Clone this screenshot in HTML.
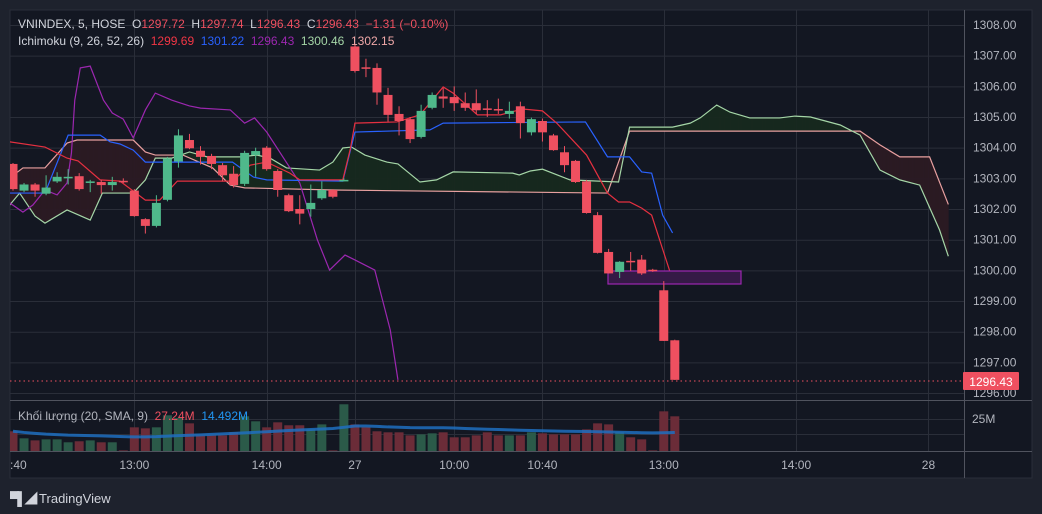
<!DOCTYPE html>
<html><head><meta charset="utf-8"><style>
html,body{margin:0;padding:0;background:#1e222d;width:1042px;height:514px;overflow:hidden;font-family:"Liberation Sans","Noto Sans CJK SC",sans-serif}
svg{position:absolute;left:0;top:0}
</style></head><body>
<svg id="c" width="1042" height="514"></svg>
<script>
const opens=[1303.47,1302.6,1302.8,1302.5,1302.9,1303.0,1303.07,1302.85,1302.88,1302.78,1302.92,1302.6,1301.67,1301.45,1302.3,1303.55,1304.25,1303.9,1303.73,1303.43,1303.15,1302.82,1303.76,1304.0,1303.24,1302.45,1302.0,1302.0,1302.35,1302.62,1302.9,1307.3,1306.62,1306.6,1305.72,1305.1,1304.93,1304.35,1305.3,1305.67,1305.65,1305.45,1305.45,1305.28,1305.26,1305.1,1305.35,1304.5,1304.87,1304.4,1303.85,1303.57,1302.9,1301.8,1300.6,1299.95,1300.31,1300.35,1300.02,1299.35,1297.72];
const closes=[1302.65,1302.8,1302.6,1302.7,1303.05,1303.05,1302.65,1302.9,1302.78,1302.88,1302.9,1301.77,1301.45,1302.2,1303.65,1304.4,1303.98,1303.7,1303.47,1303.1,1302.78,1303.83,1303.89,1303.3,1302.62,1301.93,1301.85,1302.2,1302.62,1302.4,1302.95,1306.5,1306.6,1305.8,1305.07,1304.87,1304.28,1305.2,1305.72,1305.6,1305.45,1305.3,1305.22,1305.26,1305.24,1305.2,1304.8,1304.93,1304.5,1303.92,1303.43,1302.88,1301.87,1300.57,1299.9,1300.28,1300.29,1299.9,1300.0,1297.7,1296.43];
const highs=[1303.5,1302.85,1302.85,1303.1,1303.2,1303.3,1303.17,1302.95,1302.95,1303.05,1303.0,1302.65,1301.7,1302.45,1303.7,1304.6,1304.45,1304.05,1303.8,1303.5,1303.4,1303.9,1304.0,1304.05,1303.3,1302.5,1302.45,1302.8,1302.9,1302.65,1303.0,1307.35,1306.9,1306.75,1305.95,1305.35,1305.0,1305.4,1305.8,1305.95,1306.0,1305.8,1305.9,1305.55,1305.6,1305.5,1305.5,1304.98,1304.95,1304.45,1304.05,1303.6,1302.95,1301.9,1300.7,1300.3,1300.6,1300.5,1300.05,1299.65,1297.74];
const lows=[1302.6,1302.55,1302.4,1302.45,1302.85,1302.8,1302.6,1302.55,1302.5,1302.6,1302.85,1301.75,1301.2,1301.4,1302.25,1303.35,1303.95,1303.45,1303.3,1302.9,1302.7,1302.75,1303.05,1303.25,1302.4,1301.9,1301.5,1301.75,1302.3,1302.35,1302.9,1306.45,1306.3,1305.4,1304.85,1304.4,1304.15,1304.3,1305.25,1305.3,1305.2,1305.2,1305.1,1305.0,1305.1,1304.95,1304.3,1304.4,1304.2,1303.9,1303.2,1302.85,1301.85,1300.55,1299.9,1299.75,1299.98,1299.85,1299.95,1297.7,1296.43];
const volumes=[15.4,9.9,8.3,9.1,9.1,6.8,7.6,8.3,6.8,6.8,0.5,18.5,17.7,18.5,27.9,25.8,21.6,12.2,12.2,12.2,14.6,27.1,23.2,18.5,22.4,20.1,20.1,16.9,20.8,0.5,36.5,20.8,18.5,15.4,14.6,14.6,12.2,13,13.8,14.6,10.7,10.7,12.2,14.6,12.2,12.2,12.2,14.6,13.8,13,13,13,16.9,21.6,20.8,14.6,10.7,9.1,0.5,31,27.1];
const volSma=[15.4,14.5,13.8,13.2,12.8,12.4,12.2,12,11.8,11.5,11.2,11,11,11.2,11.6,12,12.3,12.6,13,13.4,13.8,14.2,14.6,15,15.5,16,16.4,16.8,17.2,17.6,18.5,19.5,19.5,19.2,18.8,18.6,18.3,18.2,18.2,18.2,18,17.6,17.3,17,16.8,16.5,16.2,16,15.8,15.6,15.4,15.3,15.2,15,14.8,14.6,14.5,14.3,14.2,14.3,14.5];
const convIdx=[-0.3,2.9,4.9,5.9,7.9,9.7,12,13.3,14.9,19.9,21.5,23,25.1,26,29.9,30.6,31,34.8,36.9,39,39.9,42.1,44.2,46.2,48,49.3,52,53.9,54.9,55.9,57,57.9,59.8];
const convVal=[1304.19,1304.02,1303.66,1303.57,1302.95,1302.91,1302.29,1302.29,1302.91,1302.91,1303.43,1303.53,1303.17,1302.95,1302.95,1303.99,1304.8,1304.84,1305.07,1305.98,1305.78,1305.07,1305.07,1305.26,1305.2,1304.8,1303.76,1302.52,1302.23,1302.23,1302.03,1301.8,1299.69];
const baseIdx=[-0.3,2.9,5,7.9,8.8,9.7,10.9,12,19.9,21.8,23,29.9,31,37.8,39,51.9,53.9,55.9,57,57.9,58.9,59.8];
const baseVal=[1302.52,1302.52,1304.41,1304.41,1304.19,1304.12,1303.92,1303.53,1303.53,1303.04,1302.95,1302.91,1304.51,1304.58,1304.8,1304.84,1303.7,1303.7,1303.21,1303.17,1301.8,1301.22];
const lagIdx=[-0.3,0.9,1.8,2.9,4,4.9,5.3,5.6,6.1,7,8.2,9,10,10.9,12,12.9,14.4,16,17,19.7,21,21.9,23,26,27.6,28.7,30.1,31,32.8,34.2,34.9];
const lagVal=[1302.2,1301.9,1302.13,1302.62,1302.46,1302.85,1303.83,1305.55,1306.6,1306.66,1305.55,1305.13,1304.93,1304.32,1305.23,1305.78,1305.55,1305.36,1305.29,1305.23,1304.8,1304.97,1304.51,1302.85,1300.99,1300.01,1300.5,1300.34,1300.01,1298.06,1296.43];
const spanAIdx=[-0.3,0.6,2,2.9,4.9,7,8.1,10.9,12,12.9,14.4,16,17.6,20.6,22.1,23.3,24.8,27.8,29,29.9,30.7,31.9,33.9,34.9,36.9,38.4,39.9,45.3,45.9,46.9,48,50.5,54.9,55.9,59.8,61.4,62.3,63.8,65,66.8,69.5,70.9,72.3,75,76.8,78.6,80.4,82.2,84,84.8];
const spanAVal=[1302.13,1302.52,1301.77,1301.54,1301.97,1301.64,1302.52,1302.52,1302.95,1303.66,1303.66,1303.86,1303.7,1303.7,1303.76,1303.66,1303.34,1303.27,1303.53,1303.99,1304.02,1303.76,1303.53,1303.47,1302.88,1302.95,1303.21,1303.17,1303.11,1303.24,1303.3,1302.95,1302.88,1304.67,1304.67,1304.8,1304.97,1305.39,1305.16,1304.97,1304.97,1305.03,1305,1304.74,1304.41,1303.27,1302.95,1302.78,1301.32,1300.46];
const spanBIdx=[-0.3,0.9,2.9,4.9,5.8,10.9,12,12.9,15.4,18.1,19.7,21,29,53.9,55.9,76.8,78.6,80.4,83.1,84.8];
const spanBVal=[1303.01,1303.34,1303.34,1304.15,1304.25,1304.25,1303.86,1303.76,1303.76,1303.34,1302.78,1302.69,1302.62,1302.52,1304.54,1304.54,1304.09,1303.7,1303.7,1302.15];
const priceTicks=[1308,1307,1306,1305,1304,1303,1302,1301,1300,1299,1298,1297,1296];
const timeTicks=[":40","13:00","14:00","27","10:00","10:40","13:00","14:00","28"];
const timeTickIdx=[0.4,11,23,31,40,48,59,71,83];

const NS="http://www.w3.org/2000/svg";
const svg=document.getElementById('c');
const X=i=>13+i*11.03;
const Y=p=>25+(1308-p)*30.67;
const VY=v=>451-v*1.28;
function el(tag,attrs,parent){const e=document.createElementNS(NS,tag);for(const k in attrs)e.setAttribute(k,attrs[k]);(parent||svg).appendChild(e);return e;}
function txt(s,x,y,fill,size,anchor,parent){const t=el('text',{x:x,y:y,fill:fill,'font-size':size||12,'text-anchor':anchor||'start','font-family':'Liberation Sans, sans-serif'},parent);t.textContent=s;return t;}

// panel
const panel=el('rect',{x:10,y:10,width:1022,height:468,fill:'#131722',stroke:'#2a2e39'});


const defs=el('defs',{});
const cp=el('clipPath',{id:'pc'},defs);el('rect',{x:10,y:10,width:954,height:390},cp);
const cv=el('clipPath',{id:'vc'},defs);el('rect',{x:10,y:401,width:954,height:50},cv);

// grid
const grid=el('g',{stroke:'#2a2e39','stroke-width':1});


priceTicks.forEach(p=>el('line',{x1:10,x2:964,y1:Y(p)+0.5,y2:Y(p)+0.5},grid));
[434,419].forEach(y=>el('line',{x1:10,x2:964,y1:y+0.5,y2:y+0.5},grid));
timeTickIdx.slice(1).forEach(i=>el('line',{x1:Math.round(X(i))+0.5,x2:Math.round(X(i))+0.5,y1:10,y2:451},grid));

// separators
el('line',{x1:964.5,x2:964.5,y1:10,y2:478,stroke:'#50535e'});
el('line',{x1:10,x2:1032,y1:400.5,y2:400.5,stroke:'#50535e'});
el('line',{x1:10,x2:1032,y1:451.5,y2:451.5,stroke:'#50535e'});

// price labels
const pax=el('g',{});


priceTicks.forEach(p=>txt(p.toFixed(2),973,Y(p)+4,'#b2b5be',12,'start',pax));
txt('25M',972,423,'#b2b5be',12,'start',pax);

// time labels
const tax=el('g',{});


timeTicks.forEach((s,k)=>txt(s,k===0?10:X(timeTickIdx[k]),469,'#b2b5be',12,k===0?'start':'middle',tax));

// ichimoku
const ich=el('g',{'clip-path':'url(#pc)'});


function interp(idx,val,t){if(t<idx[0]||t>idx[idx.length-1])return null;for(let k=1;k<idx.length;k++){if(t<=idx[k]){const f=(t-idx[k-1])/(idx[k]-idx[k-1]);return val[k-1]+f*(val[k]-val[k-1]);}}return val[val.length-1];}
// cloud
const cloud=el('g',{},ich);


for(let t=-0.3;t<84.8;t+=0.1){
  const t2=Math.min(t+0.1,84.8);
  const a1=interp(spanAIdx,spanAVal,t),a2=interp(spanAIdx,spanAVal,t2),b1=interp(spanBIdx,spanBVal,t),b2=interp(spanBIdx,spanBVal,t2);
  if(a1==null||a2==null||b1==null||b2==null)continue;
  const up=(a1+a2)>(b1+b2);
  el('polygon',{points:`${X(t)},${Y(a1)} ${X(t2)+0.3},${Y(a2)} ${X(t2)+0.3},${Y(b2)} ${X(t)},${Y(b1)}`,fill:up?'#17291f':'#2b1a24',opacity:0.95},cloud);
}
function line(idx,val,color,name,w){const pts=idx.map((t,k)=>X(t)+','+Y(val[k])).join(' ');const l=el('polyline',{points:pts,fill:'none',stroke:color,'stroke-width':w||1.2},ich);}
line(spanBIdx,spanBVal,'#e8a0a0','senkou-span-b');
line(spanAIdx,spanAVal,'#a5d6a7','senkou-span-a');
line(lagIdx,lagVal,'#9c27b0','chikou-span');
line(baseIdx,baseVal,'#2962ff','kijun-sen');
line(convIdx,convVal,'#e53040','tenkan-sen');

// purple box
const box=el('rect',{x:608,y:271,width:133,height:13,fill:'#351a46',stroke:'#9c27b0','stroke-width':1.2});



// candles
const cg=el('g',{'clip-path':'url(#pc)'});


opens.forEach((o,i)=>{
  const c=closes[i],up=c>=o,col=up?'#4fb98b':'#ef5060';
  const g=el('g',{},cg);
  
  
  const x=X(i);
  el('line',{x1:x,x2:x,y1:Y(highs[i]),y2:Y(lows[i]),stroke:col,'stroke-width':1},g);
  const top=Y(Math.max(o,c)),h=Math.max(1.5,Math.abs(Y(o)-Y(c)));
  el('rect',{x:x-4.5,y:top,width:9,height:h,fill:col},g);
});

// last price line
const lp=el('line',{x1:10,x2:964,y1:381,y2:381,stroke:'#ef5060','stroke-dasharray':'1.5 3','stroke-width':1});


const lb=el('rect',{x:963,y:372,width:56,height:18,fill:'#ef5060',rx:1});


txt('1296.43',991,386,'#ffffff',12,'middle');

// volume
const vg=el('g',{'clip-path':'url(#vc)'});


volumes.forEach((v,i)=>{
  const up=closes[i]>=opens[i];
  const r=el('rect',{x:X(i)-4.5,y:VY(v),width:9,height:451-VY(v),fill:up?'#2b5a49':'#6b2c38'},vg);
  
  
});
const sma=el('polyline',{points:volSma.map((v,i)=>X(i)+','+VY(v)).join(' '),fill:'none',stroke:'#1e6fc0','stroke-width':3,opacity:0.85,'clip-path':'url(#vc)'});


</script>
<div style="position:absolute;left:18px;top:17px;font-size:12px;color:#d1d4dc;white-space:nowrap">VNINDEX, 5, HOSE&nbsp; O<span style="color:#ef5060">1297.72</span>&nbsp; H<span style="color:#ef5060">1297.74</span>&nbsp; L<span style="color:#ef5060">1296.43</span>&nbsp; C<span style="color:#ef5060">1296.43</span>&nbsp; <span style="color:#ef5060">−1.31 (−0.10%)</span></div>
<div style="position:absolute;left:18px;top:34px;font-size:12px;color:#d1d4dc;white-space:nowrap">Ichimoku (9, 26, 52, 26)&nbsp; <span style="color:#f23645">1299.69</span>&nbsp; <span style="color:#2962ff">1301.22</span>&nbsp; <span style="color:#9c27b0">1296.43</span>&nbsp; <span style="color:#a5d6a7">1300.46</span>&nbsp; <span style="color:#f0a8a8">1302.15</span></div>
<div style="position:absolute;left:18px;top:409px;font-size:12px;color:#b2b5be;white-space:nowrap">Khối lượng (20, SMA, 9)&nbsp; <span style="color:#ef5060">27.24M</span>&nbsp; <span style="color:#2196f3">14.492M</span></div>
<div style="position:absolute;left:10px;top:488px;font-size:13px;color:#d1d4dc;white-space:nowrap;font-weight:bold"><span style="letter-spacing:-2px">▀▌◢</span> <span style="font-weight:normal">TradingView</span></div>
</body></html>
